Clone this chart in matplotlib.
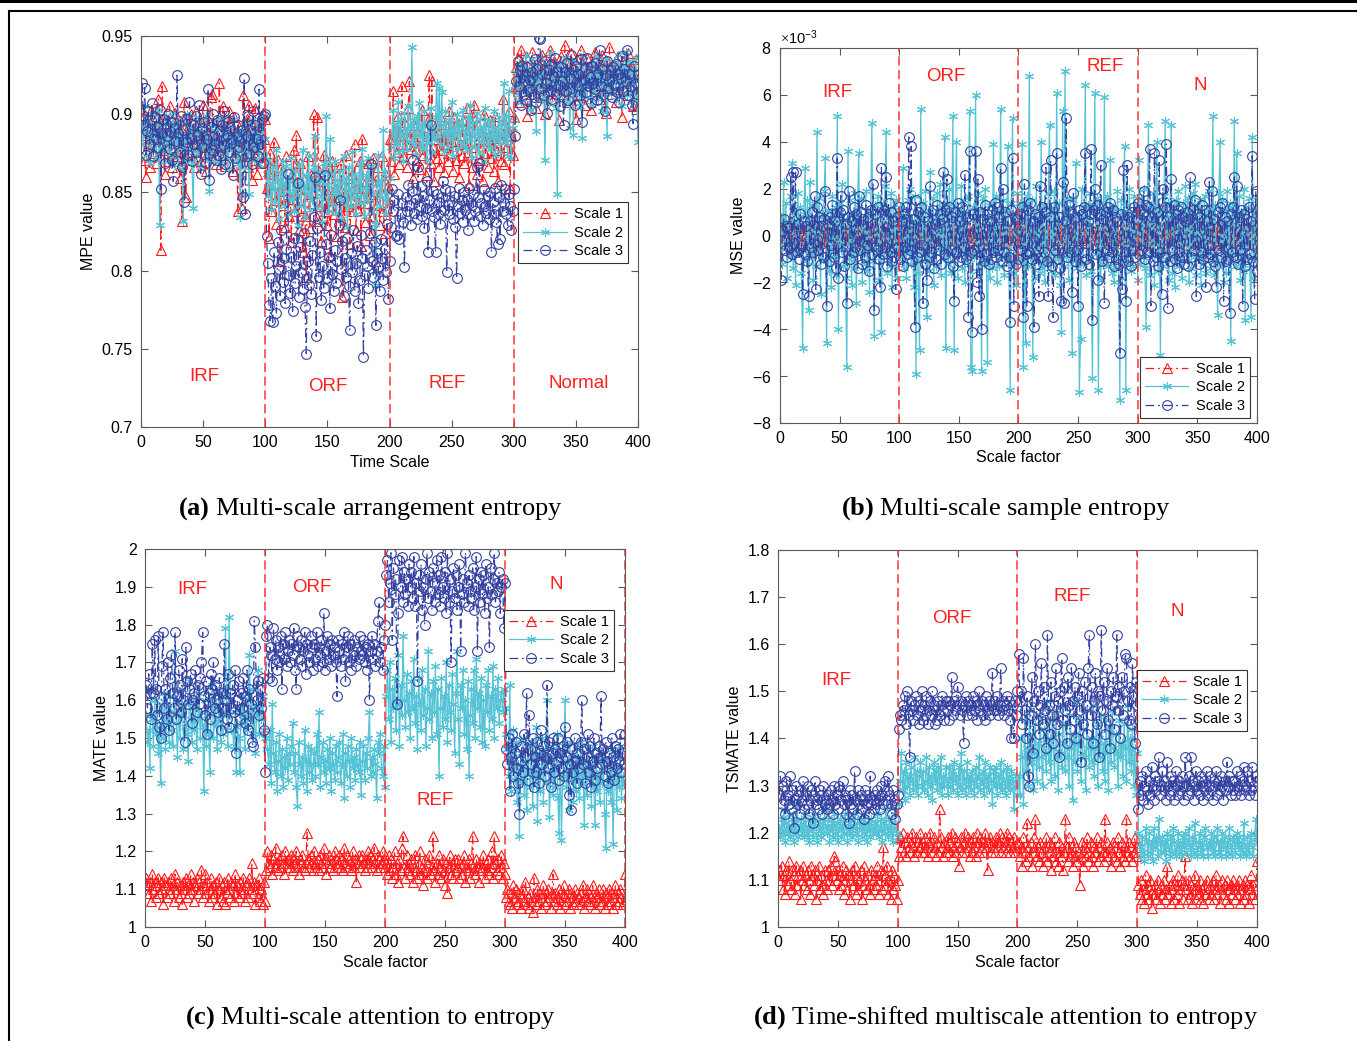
import numpy as np
import matplotlib
matplotlib.use('Agg')
import matplotlib.pyplot as plt
from matplotlib.lines import Line2D
from matplotlib.ticker import FormatStrFormatter, ScalarFormatter, MultipleLocator

plt.rcParams['font.family'] = ['Liberation Sans', 'DejaVu Sans']
plt.rcParams['axes.unicode_minus'] = False
plt.rcParams['mathtext.fontset'] = 'custom'
plt.rcParams['mathtext.rm'] = 'Liberation Serif'
plt.rcParams['mathtext.bf'] = 'Liberation Serif:bold'


def vals(s, scale):
    return np.array(s.split(), dtype=float) / scale


# ---------------- (a) MPE, values x1000 ----------------
mpe_s1 = vals("""
887 902 871 860 895 880 866 903 890 875 884 869 899 910 892 813 918 877 862 897
884 870 905 891 866 879 901 888 873 894 859 880 832 897 908 847 884 871 893 900
878 891 866 902 884 873 895 870 887 906 881 864 898 876 889 911 913 872 885 868
896 879 920 890 874 905 883 867 893 881 902 876 889 864 898 884 871 838 892 879
840 912 886 873 897 866 906 880 858 893 871 904 862 887 895 878 869 901 884 897
853 869 821 875 838 862 882 845 830 871 851 806 866 842 857 828 873 849 835 860
818 846 877 838 887 852 826 869 840 812 858 835 796 873 849 827 861 843 900 855
832 898 864 841 819 857 874 838 852 829 866 810 845 870 836 853 822 861 847 835
868 783 850 828 874 841 859 817 846 862 838 881 826 853 839 870 816 884 848 831
857 843 869 823 849 835 872 806 858 842 866 829 851 873 838 824 861 840 855 884
870 884 915 862 891 876 899 868 887 918 873 895 881 866 904 921 878 889 859 893
882 871 897 865 886 903 874 892 861 880 896 925 869 921 884 857 893 872 888 866
899 877 886 863 894 881 870 902 875 889 864 898 883 871 892 860 887 874 896 869
881 904 876 855 890 866 898 906 879 862 893 884 871 887 857 900 875 891 866 883
896 872 888 864 899 877 857 892 885 870 910 868 894 879 886 902 853 887 874 898
918 930 936 908 926 941 915 929 922 937 899 927 933 913 940 921 930 904 925 935
911 928 938 920 900 933 926 915 941 922 909 934 928 918 931 896 925 937 913 929
944 920 932 908 926 939 916 930 923 897 935 927 912 941 922 930 906 927 936 919
928 903 933 921 940 915 927 932 910 924 938 917 929 901 934 922 943 913 926 919
931 908 925 937 916 929 898 934 920 927 912 939 923 918 931 905 926 935 912 906
""", 1000)
mpe_s2 = vals("""
893 881 905 874 888 897 869 884 900 879 891 872 886 903 829 894 878 887 870 899
883 876 895 868 889 901 874 882 893 866 887 879 896 832 884 871 900 888 877 892
869 840 886 898 875 890 881 867 894 879 887 899 872 885 851 878 893 882 870 889
896 876 884 869 892 880 898 873 887 865 891 879 883 870 897 875 888 868 884 834
890 877 866 893 881 887 849 875 896 882 871 889 878 894 868 886 880 899 873 884
862 848 871 855 839 866 852 844 877 858 833 863 849 870 841 856 867 836 859 846
872 851 838 864 847 829 868 855 842 877 853 834 861 849 873 839 858 845 866 886
852 840 863 857 848 831 869 846 899 855 838 884 862 842 851 870 837 858 847 864
833 856 873 844 859 828 866 851 841 876 847 862 836 857 848 869 843 878 853 835
861 845 872 852 838 867 849 830 791 856 874 841 858 847 890 863 836 851 844 859
879 888 903 872 894 881 908 876 897 886 870 901 889 878 905 883 893 943 881 896
874 899 887 907 880 893 878 902 885 871 895 882 904 876 891 884 898 920 887 917
881 914 893 876 902 888 879 896 884 908 873 891 887 900 878 895 882 893 903 880
890 877 898 884 906 872 895 886 879 901 889 875 897 883 892 870 904 887 881 896
878 893 885 902 874 890 883 898 876 894 887 920 882 899 873 915 886 872 891 896
919 927 912 933 921 908 930 916 925 938 913 929 903 922 935 917 926 889 931 914
924 936 910 928 871 919 932 907 926 939 915 922 930 904 849 927 918 933 912 925
936 908 921 929 891 917 934 887 926 913 930 920 905 927 885 938 916 923 911 931
919 928 906 933 914 925 937 910 922 929 902 927 918 935 886 921 930 913 926 916
933 909 924 938 917 928 905 931 919 940 912 926 934 908 922 929 915 936 911 882
""", 1000)
mpe_s3 = vals("""
920 893 917 874 889 902 881 896 907 873 898 884 892 879 903 852 888 897 869 894
886 900 878 895 871 857 891 883 925 888 876 899 866 890 844 882 897 874 908 885
870 893 881 899 876 887 906 862 891 879 895 869 884 916 858 892 877 900 881 871
896 874 889 865 893 880 902 868 887 895 876 891 884 861 898 872 886 893 879 883
890 847 923 836 886 899 875 890 868 902 879 893 884 873 916 881 897 869 899 900
822 805 778 768 795 767 812 790 773 818 801 784 826 793 808 779 814 862 797 786
809 774 821 792 803 856 783 815 799 788 824 777 747 806 791 819 785 810 834 860
758 827 796 812 781 803 789 861 817 795 809 776 823 798 787 813 792 806 829 845
801 819 784 808 796 821 790 762 811 799 826 787 805 816 779 794 823 808 745 797
813 803 789 824 868 806 796 818 765 811 802 787 820 808 794 814 799 830 782 806
828 852 838 845 822 823 849 820 836 843 831 802 847 838 855 842 829 851 871 837
846 833 866 841 854 835 848 827 840 857 812 845 893 838 851 834 812 849 836 844
830 847 857 839 852 799 842 836 851 844 833 848 828 795 841 853 837 845 831 850
839 846 826 853 836 842 849 832 838 866 847 869 835 843 829 852 841 837 848 833
850 812 844 836 853 831 817 847 820 855 838 843 852 836 829 849 841 826 838 852
886 921 934 918 928 906 931 913 925 909 930 916 922 903 927 911 935 908 929 949
948 917 926 912 934 920 901 928 915 932 910 924 936 913 927 919 905 930 921 893
927 915 933 909 923 938 917 928 906 931 919 926 912 935 895 922 929 914 936 918
924 907 931 920 916 933 909 926 941 918 929 913 902 925 934 917 921 928 911 930
919 932 914 926 908 923 937 915 929 921 941 912 926 918 906 894 931 920 913 925
""", 1000)

# ---------------- (b) MSE, values x1e4 ----------------
mse_s1 = vals("""
2 -3 4 -1 0 3 -4 1 -2 5 -1 2 -5 3 0 -2 4 -3 1 -1
3 -2 1 -4 2 0 -3 5 -1 2 -2 4 -1 -3 1 3 -5 2 0 -2
1 4 -2 -1 3 -3 2 0 -4 1 5 -2 3 -1 -3 2 0 4 -2 1
-1 3 -4 2 1 -2 0 3 -3 5 -1 2 -2 -4 1 3 -1 0 4 -3
2 -1 3 -2 0 -5 4 1 -3 2 -1 3 0 -2 4 -4 1 2 -3 0
-2 4 1 -3 3 -1 0 5 -4 2 -2 1 3 -3 0 4 -1 -5 2 1
-1 3 -2 0 4 -4 2 -1 3 1 -3 5 0 -2 2 -1 4 -3 1 0
3 -2 1 -4 2 5 -1 0 -3 3 1 -2 4 -1 -4 2 0 3 -2 1
-3 2 4 -1 0 -2 3 -5 1 2 -1 4 -3 0 2 -2 1 5 -4 0
1 -3 2 3 -1 0 4 -2 -3 1 3 -1 2 -4 0 5 -2 1 3 -1
4 -1 2 -3 0 3 -2 5 -1 1 -4 2 0 3 -3 1 4 -2 -1 2
-3 0 3 -2 5 1 -4 2 -1 3 0 -2 4 -3 1 2 -1 -5 3 0
2 -1 -3 4 0 2 -2 1 3 -4 5 -1 0 -2 3 1 -3 2 4 -1
0 3 -2 -4 1 2 -1 4 -3 0 3 -2 1 5 -1 -3 2 0 -4 3
-1 2 4 -2 0 -3 1 3 -1 -5 2 0 4 -2 1 -1 3 -4 2 1
1 -2 3 0 -4 2 5 -1 -3 1 4 -2 0 3 -1 -4 2 1 -2 5
0 -3 2 4 -1 1 -2 3 -5 0 2 -1 4 -3 1 3 -2 0 -1 4
-2 1 3 -4 2 0 5 -1 -3 2 1 -2 4 0 -3 1 3 -1 -4 2
3 -1 0 2 -3 4 1 -2 5 -1 -4 2 0 3 -2 1 -3 4 -1 0
2 -3 1 4 -2 0 3 -1 -4 5 1 -2 3 0 -1 4 -3 2 -2 3
""", 1e4)
mse_s2 = vals("""
8 -12 23 -5 14 -18 6 -9 17 31 -14 10 -21 5 18 -7 12 -16 -48 9
29 -11 15 -32 23 -8 13 -19 7 -13 44 -6 16 -25 9 -10 19 33 -46 11
-15 8 -22 17 -9 12 -17 51 -40 14 -6 22 -13 7 -18 -56 36 -10 15 -21
9 -14 18 -29 12 35 -8 16 -20 6 -12 19 -15 11 -24 8 48 -11 -43 13
-7 17 -19 10 -41 14 -9 21 44 -16 8 -13 18 -22 12 -6 15 -18 9 -10
12 -9 29 -14 8 -18 15 -7 20 -12 6 -22 17 -59 10 -16 -49 54 -11 14
-8 19 -35 11 -15 27 -10 16 -21 9 -13 18 -6 22 -17 12 -9 42 -48 14
-12 20 -16 8 51 -49 13 40 -18 10 -7 21 -14 15 -20 9 -11 17 53 -56
-58 12 -9 60 -15 18 -7 11 -58 16 -12 20 -10 -54 13 -18 8 -14 39 -6
17 -20 10 -13 54 -9 15 -17 11 -8 38 -12 -66 14 50 -16 9 -21 18 -11
14 -10 39 -56 12 -46 17 -13 68 -9 15 -52 10 -18 21 -11 8 -16 40 -14
13 -20 9 -12 18 47 -15 11 -8 19 -17 61 -10 14 -21 -41 53 -13 70 -9
16 -19 12 -7 -50 15 -11 31 -14 9 -67 -44 20 -12 8 64 -17 13 -10 18
-15 -61 11 61 -8 16 -66 14 -19 10 -12 59 -9 17 -13 8 32 -16 12 -20
11 -14 19 -9 -70 15 -18 10 38 -66 13 -11 20 -15 9 -13 17 -8 14 -19
32 -12 16 -9 20 -14 -39 11 47 -17 13 -8 18 -21 10 40 -15 12 -51 9
-13 17 49 -10 14 -19 8 47 -16 12 -22 15 -9 19 -13 10 -18 14 -11 21
-8 16 -20 11 -14 18 -9 22 -17 13 -10 15 -21 9 -12 17 -16 12 -8 19
-14 10 51 -17 13 -9 -34 18 40 -12 15 -20 11 -16 19 -10 14 -45 12 -8
49 -13 35 -11 17 -19 10 -15 20 -36 12 -9 16 -14 -35 42 -18 11 -10 15
""", 1e4)
mse_s3 = vals("""
-19 2 7 -6 4 -9 3 -5 25 -8 27 -3 27 -7 5 -10 9 -4 -25 6
-8 4 -11 -26 6 -5 10 -7 17 -23 12 -6 8 -12 4 -9 7 19 -30 5
-11 8 -4 13 -9 6 -14 33 -18 10 17 -7 11 -13 5 -29 8 19 -10 6
-7 12 -5 9 -14 17 -6 10 -12 7 -9 13 -4 8 -15 11 -8 22 -32 9
-6 12 -10 -22 29 -8 11 -5 25 -13 14 -7 10 -11 6 -9 -23 8 -5 12
-10 6 -13 9 -5 12 -8 42 -6 38 -11 7 -39 15 -9 10 -7 12 -4 -29
8 -12 -19 6 -9 21 -7 11 -14 5 -10 13 -6 9 -12 7 27 -8 11 24
-9 12 -6 8 -13 -28 10 -7 14 -11 6 -9 12 -5 26 -10 8 -35 36 -7
-41 9 -6 36 -20 24 -26 10 -40 7 -11 13 -8 9 -12 6 -10 11 -7 14
-9 12 -6 8 29 -11 20 -7 10 -13 6 -9 -37 11 33 -30 8 -12 7 -10
9 -6 12 -35 22 -8 -30 11 -7 14 -10 6 -39 9 -12 8 -26 21 -9 12
-7 10 29 -11 -26 8 32 -13 -35 12 -6 35 -10 8 -14 -28 23 -29 6 50
-9 13 -7 10 -24 18 -11 8 -6 -30 11 -13 9 -7 12 35 -10 6 -12 9
37 -36 11 20 -8 13 -19 9 30 -11 7 -29 10 -6 12 -9 14 -7 11 -13
8 -10 6 -12 -50 9 -23 28 -7 -28 30 -11 8 -13 10 -6 12 -9 7 14
-8 11 -6 9 19 -10 13 -7 12 37 -30 8 -11 35 -9 10 -13 32 -7 -25
20 -9 12 39 -31 8 -11 24 -6 13 -10 9 -14 11 -7 12 -9 8 -12 6
10 -13 7 25 -9 11 -6 15 -26 9 -12 8 -7 13 -10 11 -22 6 -9 23
-8 19 -11 7 -13 -22 10 -6 12 -9 14 -28 8 -11 6 -10 -33 9 -7 12
25 -9 21 -12 8 -6 11 -30 9 -13 7 -10 12 -8 6 34 -11 -27 19 -15
""", 1e4)

# ---------------- (c) MATE, values x100 ----------------
mate_s1 = vals("""
113 111 109 112 107 114 110 112 108 111 113 109 112 110 106 113 111 108 112 110
109 113 111 107 114 110 112 108 111 109 106 112 110 113 108 111 109 114 110 112
107 111 113 109 112 110 115 108 111 114 109 112 107 110 113 108 111 109 112 106
110 113 108 111 107 112 106 109 113 110 108 112 111 107 114 109 111 108 112 110
109 113 107 111 112 108 113 110 117 109 112 106 111 108 113 107 110 106 112 107
115 120 117 116 119 114 118 116 121 117 115 118 116 119 117 114 120 116 118 117
116 119 115 118 117 120 116 114 118 117 119 116 115 117 125 118 116 119 117 115
120 117 116 118 115 119 117 116 121 118 114 117 119 116 118 117 115 120 118 116
117 119 116 118 115 121 117 119 116 118 117 115 120 116 118 112 117 119 116 118
119 117 115 118 116 120 117 119 116 118 121 117 115 119 118 116 117 120 118 116
117 114 119 115 118 113 116 120 114 117 112 118 115 121 124 116 113 119 115 117
114 118 112 116 119 115 113 117 120 114 116 111 118 115 113 117 119 114 116 124
115 112 117 114 119 116 113 118 115 111 117 109 116 119 114 117 113 118 115 116
118 113 116 114 117 119 112 116 115 118 113 117 124 115 114 118 116 112 117 115
116 119 113 117 115 118 114 116 120 113 124 117 115 118 114 116 119 113 117 114
108 110 107 106 109 105 111 108 110 106 107 109 105 108 110 107 112 106 108 105
109 107 104 113 108 106 110 107 109 105 108 111 106 109 107 110 108 105 109 114
107 109 106 108 110 105 107 109 111 106 108 107 110 105 109 108 106 110 107 109
108 106 109 107 111 105 108 110 107 109 106 108 111 107 105 109 108 110 106 108
107 110 105 109 108 106 110 107 109 105 108 111 106 109 107 110 108 106 107 114
""", 100)
mate_s2 = vals("""
156 149 152 142 163 155 148 160 151 157 146 153 138 159 150 162 147 155 158 149
161 152 148 157 173 154 145 160 150 156 163 147 153 159 151 144 165 155 149 158
152 160 147 155 162 150 157 153 136 160 148 156 151 141 158 164 150 154 159 147
155 162 149 157 151 163 179 156 148 182 160 152 152 147 157 141 153 150 141 158
154 161 147 156 152 160 172 155 163 151 158 146 157 168 151 159 155 161 152 150
150 147 143 152 138 159 146 141 149 136 144 151 140 147 137 145 142 150 139 146
143 148 154 141 146 137 132 149 143 140 145 138 152 144 136 148 141 147 139 143
146 140 151 143 157 137 145 149 141 144 138 147 142 150 136 146 143 139 148 141
145 149 138 143 151 134 146 140 148 144 137 150 142 145 139 147 143 141 149 135
144 148 139 146 142 150 157 140 145 141 147 143 134 149 146 151 142 140 148 137
161 168 155 170 149 163 158 166 152 159 172 148 164 156 177 160 153 167 157 162
150 165 158 171 154 161 147 166 159 152 168 156 163 148 158 173 155 162 150 165
157 169 151 163 140 158 166 153 161 155 170 149 164 157 152 167 159 146 162 173
155 143 164 158 168 151 160 147 165 140 156 163 154 168 150 171 158 162 153 166
149 160 148 164 157 168 152 161 155 169 150 163 158 166 154 160 162 157 163 158
151 147 140 164 136 145 152 139 149 133 143 124 146 138 150 135 144 131 148 141
137 149 132 145 140 153 128 146 136 142 150 133 147 138 160 144 129 141 148 135
143 137 151 134 125 146 123 140 148 160 137 144 131 149 139 145 133 141 136 147
140 134 149 138 144 127 142 135 147 139 143 132 148 137 127 145 136 141 133 146
138 144 130 121 143 136 141 133 147 122 139 145 131 142 137 148 134 140 138 137
""", 100)
mate_s3 = vals("""
164 158 167 162 155 175 162 176 163 156 177 153 150 169 178 158 163 155 170 152
166 172 162 158 178 155 161 168 164 157 171 160 149 174 165 159 163 167 154 160
162 168 157 164 159 166 170 178 161 156 165 151 162 155 167 163 170 158 164 160
157 166 152 162 158 175 160 155 167 153 162 158 164 157 168 146 160 165 155 162
158 166 154 161 168 152 163 159 149 148 181 174 160 165 156 163 158 166 152 141
177 180 166 174 172 165 179 171 176 168 174 170 177 163 175 171 178 169 173 176
170 175 172 179 168 163 177 174 171 176 169 173 178 167 175 172 170 177 174 168
175 171 178 169 174 172 176 170 183 168 173 177 171 175 169 176 172 174 170 161
176 173 169 175 171 178 165 174 177 170 175 168 173 176 172 169 174 171 177 173
172 176 170 174 168 175 160 173 177 171 175 169 173 181 186 170 174 168 176 180
193 197 186 191 199 176 195 188 192 159 183 197 190 198 186 194 188 192 185 196
190 194 187 198 185 191 165 193 189 196 184 190 180 192 199 187 194 189 184 195
191 186 197 188 193 185 198 190 187 194 183 199 186 192 170 189 195 187 193 184
190 196 173 188 192 186 199 191 185 193 189 187 195 184 190 198 173 192 186 194
188 193 183 196 187 190 174 195 188 192 199 186 191 189 194 183 190 192 179 191
147 143 150 136 145 151 140 146 149 142 138 130 144 148 141 151 145 162 139 156
147 143 150 137 145 141 149 138 146 152 143 148 140 145 164 142 149 137 146 150
141 147 144 150 139 146 142 148 140 153 145 149 135 143 131 147 141 150 144 138
146 142 149 160 143 147 138 145 151 141 148 137 144 150 139 146 142 148 145 161
143 147 140 149 144 138 146 141 150 145 139 148 142 147 144 151 141 146 143 151
""", 100)

# ---------------- (d) TSMATE, values x100 ----------------
tsmate_s1 = vals("""
112 110 113 108 111 107 112 109 114 110 108 112 111 107 113 109 111 112 106 110
113 109 111 108 112 110 107 113 111 109 112 106 110 113 108 111 109 107 112 110
108 112 110 113 109 111 115 114 110 112 108 111 109 113 107 110 112 108 111 106
110 112 109 113 107 111 108 110 112 106 109 113 110 108 111 109 107 112 110 108
111 109 113 107 110 112 108 117 111 109 113 107 110 106 112 108 111 109 106 110
115 119 117 120 116 118 115 119 117 116 118 120 117 115 119 116 118 117 120 116
118 116 119 117 115 118 120 117 116 119 117 115 118 116 125 119 117 115 118 116
117 119 116 118 120 115 117 119 116 118 113 117 119 116 118 120 116 117 119 115
118 116 119 117 115 120 118 116 119 117 118 116 120 117 112 118 119 116 118 117
116 119 117 118 120 116 119 117 118 116 120 117 119 116 118 117 119 116 117 118
118 115 117 113 119 116 114 122 117 115 118 113 116 119 123 115 117 114 118 116
113 117 115 119 114 116 118 112 117 115 119 114 116 113 118 115 117 112 116 123
117 114 119 115 116 113 118 115 117 114 116 109 115 118 113 117 115 119 114 116
118 115 113 117 116 119 114 117 115 118 116 114 123 116 118 115 117 113 116 118
115 117 114 119 116 113 118 115 117 114 123 116 118 115 117 114 116 119 115 117
109 107 110 106 108 105 111 107 109 106 110 104 108 107 109 106 110 108 105 109
107 110 106 108 113 107 109 105 108 110 106 109 107 111 105 108 110 106 109 115
108 106 110 107 109 105 108 111 106 109 107 110 106 108 105 109 107 110 108 106
109 107 110 106 108 111 107 109 105 108 110 107 109 106 110 108 105 109 107 110
108 106 109 107 110 105 108 109 106 110 107 109 105 108 111 107 109 106 108 114
""", 100)
tsmate_s2 = vals("""
121 119 123 120 125 118 122 120 124 119 121 123 118 122 120 126 119 121 123 120
122 119 124 120 121 118 123 121 119 122 124 120 118 121 123 119 122 120 125 121
120 123 118 121 122 119 124 120 122 118 121 123 119 122 120 124 121 118 122 120
123 119 121 124 120 122 118 121 123 119 122 120 124 118 121 122 119 123 120 121
122 120 124 119 121 123 118 122 120 125 121 119 123 120 122 118 121 124 120 119
126 131 137 129 133 127 135 130 132 128 134 131 129 136 130 133 128 132 135 130
133 129 131 136 128 134 130 132 127 135 131 133 129 134 130 136 128 132 130 134
131 128 134 130 133 129 135 131 132 128 134 130 137 129 133 131 128 135 130 132
129 133 131 128 134 130 132 136 129 131 133 128 135 130 132 129 134 131 126 133
130 134 128 132 130 135 129 133 131 128 134 130 132 129 133 131 125 130 132 128
132 128 140 136 126 144 133 138 130 146 135 141 129 137 143 131 139 134 145 136
130 142 137 133 148 135 140 131 144 138 132 146 136 129 141 137 134 147 139 133
143 136 130 145 138 127 141 135 148 133 139 144 131 137 142 136 129 146 138 134
140 135 147 132 138 143 130 141 136 145 133 139 131 144 137 129 142 135 146 138
134 141 137 130 144 136 139 132 143 138 131 147 135 140 133 142 130 138 128 137
120 117 115 119 116 114 121 118 115 120 116 118 114 121 117 119 115 123 118 116
119 116 118 114 120 117 115 119 116 121 118 115 117 120 116 118 115 119 117 120
116 118 121 117 115 119 116 122 118 115 117 120 116 118 115 119 121 117 115 118
117 120 116 119 115 118 121 116 118 115 120 117 119 115 118 116 121 117 115 119
118 116 120 117 119 115 118 116 122 117 115 119 116 118 120 117 115 119 123 118
""", 100)
tsmate_s3 = vals("""
128 132 126 130 127 124 131 128 126 132 125 129 121 127 130 126 128 124 129 127
131 125 128 126 130 124 127 129 122 128 131 126 127 125 129 128 124 130 126 127
125 128 126 129 127 124 130 126 128 125 130 129 127 131 126 128 124 127 122 129
126 128 125 133 127 124 129 126 128 125 127 123 129 126 128 124 132 126 127 125
128 126 129 127 125 130 128 126 131 127 129 132 128 126 124 129 127 123 126 128
142 145 144 147 146 149 143 150 145 136 148 146 144 147 149 145 148 143 146 150
144 147 145 149 143 146 148 145 150 147 143 146 144 148 145 147 149 146 144 148
146 148 144 147 153 145 148 146 149 151 147 145 148 146 139 147 149 145 148 146
147 145 149 146 148 144 147 150 146 148 145 147 144 149 146 148 145 147 154 146
148 146 149 145 147 155 146 148 145 147 149 146 148 144 140 147 140 148 145 150
158 148 150 143 157 146 140 149 132 130 145 153 137 148 160 144 150 141 147 156
143 151 146 138 162 147 141 152 145 139 149 155 143 148 136 150 157 144 151 146
139 153 147 142 155 148 144 151 140 149 154 146 135 150 143 152 147 141 155 162
145 151 139 148 154 143 150 136 149 163 146 152 141 148 155 144 138 150 147 153
142 149 162 146 151 140 153 145 150 158 157 148 144 151 143 156 149 139 152 147
125 131 128 132 127 130 133 129 126 131 128 134 130 127 132 129 131 136 128 130
133 129 131 127 135 130 128 132 129 131 127 133 130 128 131 129 132 130 127 136
130 128 132 129 136 131 127 130 133 129 131 128 132 130 127 131 129 133 128 130
132 129 127 131 130 133 128 131 129 132 130 127 131 129 135 130 132 128 131 129
131 128 133 130 129 132 128 131 134 129 130 133 128 131 129 134 130 128 132 131
""", 100)

legend_labels = ['Scale 1', 'Scale 2', 'Scale 3']
boundaries = [100, 200, 300]

RED = '#FF1A1A'
CYAN = '#55C3D6'
BLUE = '#3340A0'
AX_COL = '#5a5a5a'

fig = plt.figure(figsize=(13.57, 10.41), dpi=100)


def panel(rect, s1, s2, s3, ylim, yticks, ylabel, xlabel, regions, leg_anchor,
          yfmt='%g', extra_vline=False):
    ax = fig.add_axes(rect)
    for s, c, ls, mk, ms, mfc in [(s1, RED, (0, (7, 3, 1.5, 3)), '^', 7, 'none'),
                                  (s2, CYAN, '-', (6, 2, 0), 6.5, CYAN),
                                  (s3, BLUE, (0, (7, 3, 1.5, 3)), 'o', 7, 'none')]:
        x = np.arange(1, len(s) + 1)
        ax.plot(x, s, color=c, ls=ls, lw=0.9, marker=mk, ms=ms, mfc=mfc,
                mec=c, mew=0.8)
    vl = boundaries + ([400] if extra_vline else [])
    for b in vl:
        ax.axvline(b, color='#FF3333', ls=(0, (6, 3)), lw=1.1)
    for txt, xx, yy in regions:
        ax.text(xx, yy, txt, color='#FF2020', fontsize=13.5, ha='center',
                va='center')
    ax.set_xlim(0, 400)
    ax.set_ylim(*ylim)
    ax.xaxis.set_major_locator(MultipleLocator(50))
    ax.set_yticks(yticks)
    if yfmt:
        ax.yaxis.set_major_formatter(FormatStrFormatter(yfmt))
    ax.tick_params(direction='in', top=True, right=True, length=5,
                   width=0.8, color=AX_COL, labelsize=11.5, pad=6)
    for sp in ax.spines.values():
        sp.set_color(AX_COL)
        sp.set_linewidth(0.8)
    ax.set_xlabel(xlabel, fontsize=11.5, labelpad=3)
    ax.set_ylabel(ylabel, fontsize=11.5, labelpad=4)
    handles = [Line2D([], [], color=RED, ls=(0, (7, 3, 1.5, 3)), lw=0.9,
                      marker='^', ms=7, mfc='none', mew=0.8),
               Line2D([], [], color=CYAN, ls='-', lw=0.9, marker=(6, 2, 0),
                      ms=6.5, mew=0.8),
               Line2D([], [], color=BLUE, ls=(0, (7, 3, 1.5, 3)), lw=0.9,
                      marker='o', ms=7, mfc='none', mew=0.8)]
    leg = ax.legend(handles, legend_labels, loc='upper right',
                    bbox_to_anchor=leg_anchor, fancybox=False,
                    edgecolor='#333333', framealpha=1, fontsize=10.5,
                    handlelength=3.0, borderpad=0.35, labelspacing=0.3,
                    handletextpad=0.5, borderaxespad=0)
    leg.get_frame().set_linewidth(0.8)
    return ax


panel([0.1039, 0.5898, 0.3663, 0.3756], mpe_s1, mpe_s2, mpe_s3,
      (0.7, 0.95), np.arange(0.7, 0.951, 0.05), 'MPE value', 'Time Scale',
      [('IRF', 51, 0.732), ('ORF', 150, 0.7256), ('REF', 246, 0.728),
       ('Normal', 352, 0.728)], (0.98, 0.575))

axb = panel([0.5748, 0.5937, 0.3515, 0.3602], mse_s1, mse_s2, mse_s3,
            (-8e-3, 8e-3), np.arange(-8e-3, 8.1e-3, 2e-3), 'MSE value',
            'Scale factor',
            [('IRF', 48, 6.08e-3), ('ORF', 139, 6.8e-3), ('REF', 273, 7.19e-3),
             ('N', 352, 6.38e-3)], (0.985, 0.176), yfmt=None)
sf = ScalarFormatter(useMathText=True)
sf.set_powerlimits((0, 0))
axb.yaxis.set_major_formatter(sf)
axb.yaxis.get_offset_text().set_fontsize(10.5)

panel([0.1069, 0.1095, 0.3537, 0.3631], mate_s1, mate_s2, mate_s3,
      (1, 2), np.arange(1, 2.01, 0.1), 'MATE value', 'Scale factor',
      [('IRF', 39, 1.892), ('ORF', 139, 1.899), ('REF', 242, 1.336),
       ('N', 343, 1.907)], (0.977, 0.839), extra_vline=True)

panel([0.5733, 0.1095, 0.3530, 0.3622], tsmate_s1, tsmate_s2, tsmate_s3,
      (1, 1.8), np.arange(1, 1.81, 0.1), 'TSMATE value', 'Scale factor',
      [('IRF', 49, 1.524), ('ORF', 145, 1.654), ('REF', 246, 1.702),
       ('N', 333, 1.670)], (0.979, 0.682))

# captions
cap_kw = dict(ha='center', va='center', fontsize=19, family='Liberation Serif')
fig.text(0.2727, 0.511, r'$\mathbf{(a)}$ Multi-scale arrangement entropy', **cap_kw)
fig.text(0.7413, 0.511, r'$\mathbf{(b)}$ Multi-scale sample entropy', **cap_kw)
fig.text(0.2727, 0.0221, r'$\mathbf{(c)}$ Multi-scale attention to entropy', **cap_kw)
fig.text(0.7413, 0.0221,
         r'$\mathbf{(d)}$ Time-shifted multiscale attention to entropy', **cap_kw)

# page frame
fig.add_artist(Line2D([0, 1], [0.9986, 0.9986], color='black', lw=2.2,
                      transform=fig.transFigure))
fig.add_artist(Line2D([0.0066, 1], [0.9899, 0.9899], color='black', lw=1.5,
                      transform=fig.transFigure))
fig.add_artist(Line2D([0.0066, 0.0066], [0, 0.9899], color='black', lw=1.5,
                      transform=fig.transFigure))

fig.savefig('out.png', dpi=100)
